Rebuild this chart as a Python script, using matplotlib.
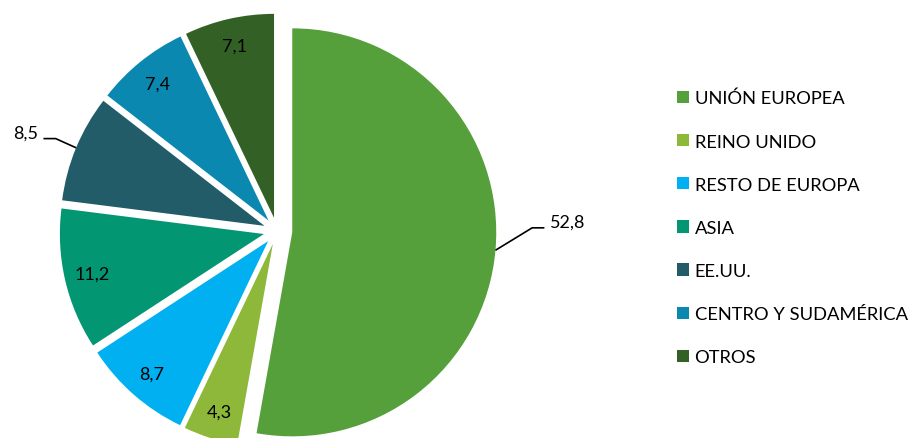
import numpy as np
import matplotlib
matplotlib.use("Agg")
import matplotlib.pyplot as plt

plt.rcParams['font.family'] = ['Lato', 'DejaVu Sans']

# datos
regiones = ['UNIÓN EUROPEA', 'REINO UNIDO', 'RESTO DE EUROPA', 'ASIA',
            'EE.UU.', 'CENTRO Y SUDAMÉRICA', 'OTROS']
valores = [52.8, 4.3, 8.7, 11.2, 8.5, 7.4, 7.1]
colores = ['#55A03B', '#8DB83A', '#00B0F0', '#039673',
           '#215C68', '#0B88B0', '#336125']
separacion = [0.075, 0.066, 0.066, 0.066, 0.066, 0.066, 0.066]
etiqueta_fuera = [True, False, False, False, True, False, False]

W, H = 910, 439
R = 204.0
cx, cy = 277, 232  # centro en pixeles (desde arriba)

fig = plt.figure(figsize=(W / 100, H / 100), dpi=100)
ax = fig.add_axes([0, 0, 1, 1])

wedges, _ = ax.pie(valores, colors=colores, startangle=90, counterclock=False,
                   explode=separacion, radius=1.0, center=(0, 0),
                   wedgeprops=dict(linewidth=0))

ax.set_xlim(-cx / R, (W - cx) / R)
ax.set_ylim(-(H - cy) / R, cy / R)
ax.set_aspect('equal')
ax.axis('off')

def fmt(v):
    return f"{v:.1f}".replace('.', ',')

for w, v, fuera in zip(wedges, valores, etiqueta_fuera):
    ang = np.deg2rad((w.theta1 + w.theta2) / 2)
    ux, uy = np.cos(ang), np.sin(ang)
    c0x, c0y = w.center
    if not fuera:
        ax.text(c0x + 0.865 * ux, c0y + 0.865 * uy, fmt(v), ha='center',
                va='center', fontsize=13, color='black')
    else:
        p0 = (c0x + ux, c0y + uy)
        lado = 1 if ux > 0 else -1
        if lado > 0:
            p1 = (p0[0] + 0.18, p0[1] + 0.11)
            p2 = (p1[0] + 0.06, p1[1])
        else:
            p1 = (p0[0] - 0.10, p0[1] + 0.045)
            p2 = (p1[0] - 0.06, p1[1])
        ax.plot([p0[0], p1[0], p2[0]], [p0[1], p1[1], p2[1]],
                color='black', linewidth=1.2, solid_capstyle='butt')
        ax.text(p2[0] + lado * 0.025, p2[1] + 0.03, fmt(v),
                ha='left' if lado > 0 else 'right', va='center',
                fontsize=13, color='black')

ax.legend(wedges, regiones, loc='upper left', bbox_to_anchor=(677 / W, 1 - 91 / H),
          bbox_transform=fig.transFigure, frameon=False, fontsize=13.2,
          handlelength=0.655, handleheight=0.655, handletextpad=0.3,
          labelspacing=1.48, borderpad=0, borderaxespad=0)

fig.savefig('out.png', dpi=100)
